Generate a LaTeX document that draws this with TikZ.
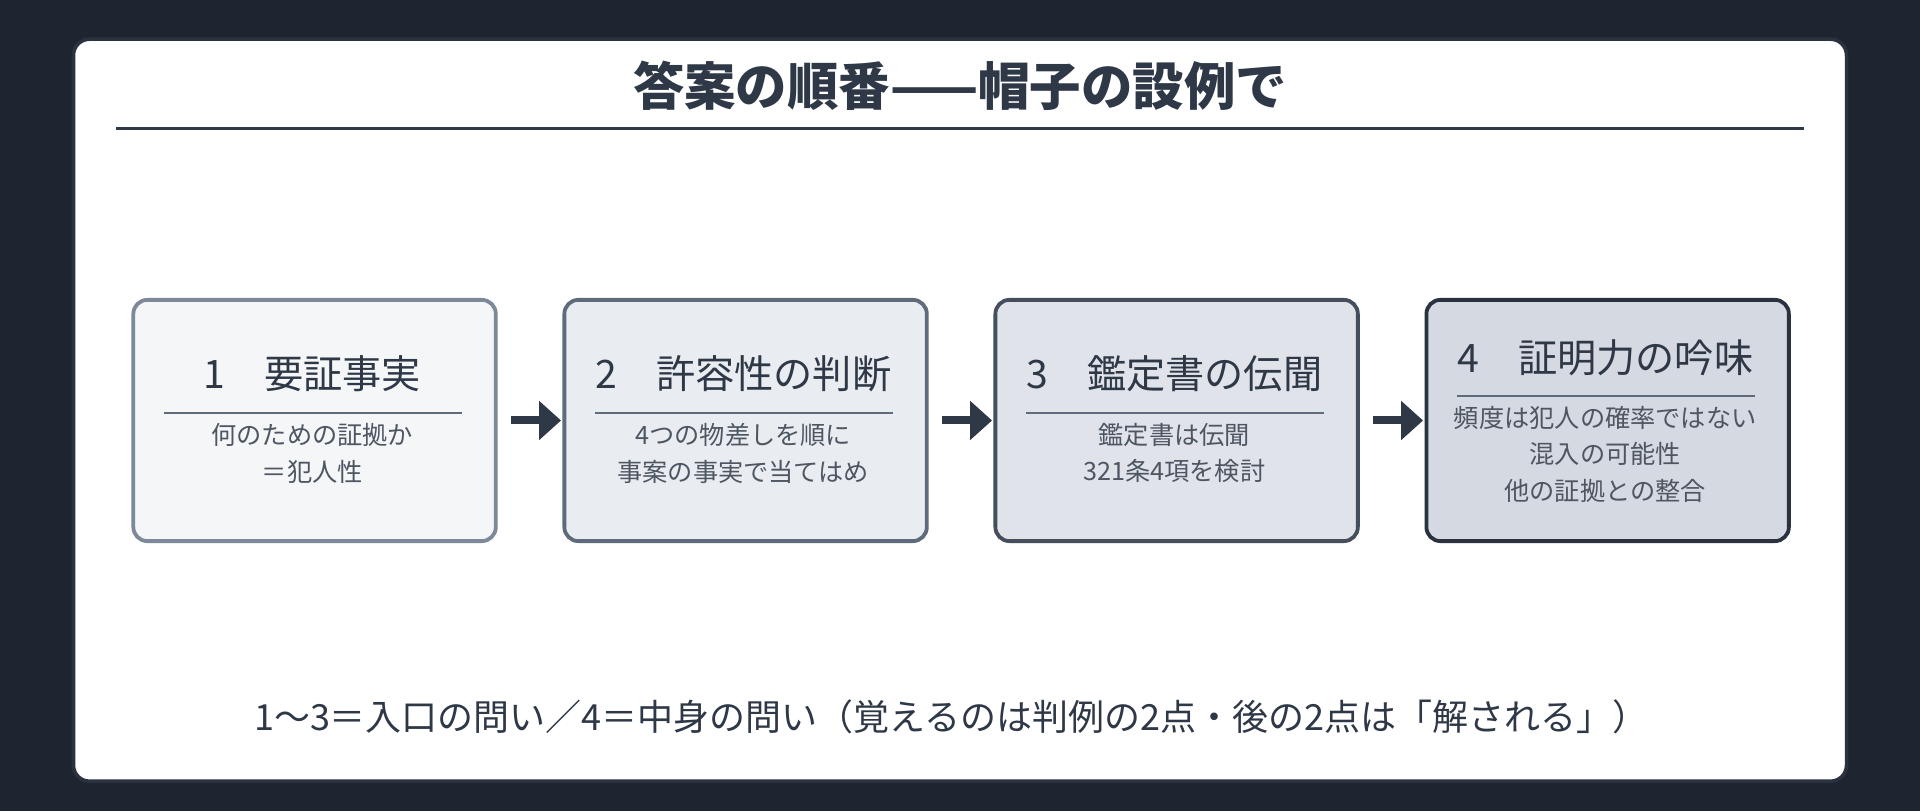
\documentclass[tikz,border=0pt]{standalone}
\usepackage{fontspec}
\setmainfont{Noto Sans CJK JP}
\usetikzlibrary{arrows.meta}
\definecolor{bg}{HTML}{1E2530}
\definecolor{ink}{HTML}{2F3846}
\definecolor{fa}{HTML}{F4F6F8}\definecolor{fb}{HTML}{E9EDF1}\definecolor{fc}{HTML}{E0E4EA}\definecolor{fd}{HTML}{D5D9E1}
\definecolor{ba}{HTML}{7D8898}\definecolor{bb}{HTML}{5F6A7A}\definecolor{bc}{HTML}{454E5D}\definecolor{bd}{HTML}{2A3240}
\tikzset{
 box/.style={draw,line width=3.8pt,rounded corners=14pt,minimum width=296pt,minimum height=197pt,anchor=north west},
 head/.style={font=\fontsize{32}{38}\selectfont,text=ink},
 body/.style={font=\fontsize{20.6}{30}\selectfont,text=ink!85,align=center},
 arr/.style={draw=ink,line width=8pt,-{Triangle[length=22pt,width=38pt]},shorten <=13pt,shorten >=1pt},
}
\begin{document}
\begin{tikzpicture}[x=1.2245pt,y=-1.2245pt,every node/.style={scale=1.2245}]
\useasboundingbox[fill=bg] (0,0) rectangle (1568,662);
\draw[fill=white,draw=ink!70!bg,line width=3.6pt,rounded corners=16pt] (60,32) rectangle (1508,638);
\node[font=\bfseries\fontsize{42}{46}\selectfont,text=ink] (title) at (784,70) {答案の順番——帽子の設例で};
\draw[ink,line width=2.4pt] (95,105) -- (1473,105);
\foreach \i/\x/\f/\b in {1/107/fa/ba,2/459/fb/bb,3/811/fc/bc,4/1163/fd/bd}{
 \node[box,fill=\f,draw=\b] (b\i) at (\x,243) {};
}
\node[head] (h1) at (255,305) {1\quad 要証事実};
\node[head] (h2) at (607,305) {2\quad 許容性の判断};
\node[head] (h3) at (959,305) {3\quad 鑑定書の伝聞};
\node[head] (h4) at (1311,292) {4\quad 証明力の吟味};
\draw[bb,line width=2pt] (134,337) -- (377,337);
\draw[bb,line width=2pt] (486,337) -- (729,337);
\draw[bb,line width=2pt] (838,337) -- (1081,337);
\draw[bb,line width=2pt] (1190,323) -- (1433,323);
\node[body] (t1) at (255,370) {何のための証拠か\\＝犯人性};
\node[body] (t2) at (607,370) {4つの物差しを順に\\事案の事実で当てはめ};
\node[body] (t3) at (959,370) {鑑定書は伝聞\\321条4項を検討};
\node[body] (t4) at (1311,371) {頻度は犯人の確率ではない\\混入の可能性\\他の証拠との整合};
\draw[arr] (b1.east) -- (b2.west);
\draw[arr] (b2.east) -- (b3.west);
\draw[arr] (b3.east) -- (b4.west);
\node[font=\fontsize{29.4}{34}\selectfont,text=ink] (foot) at (777,585) {1〜3＝入口の問い／4＝中身の問い（覚えるのは判例の2点・後の2点は「解される」）};
\end{tikzpicture}
\end{document}
